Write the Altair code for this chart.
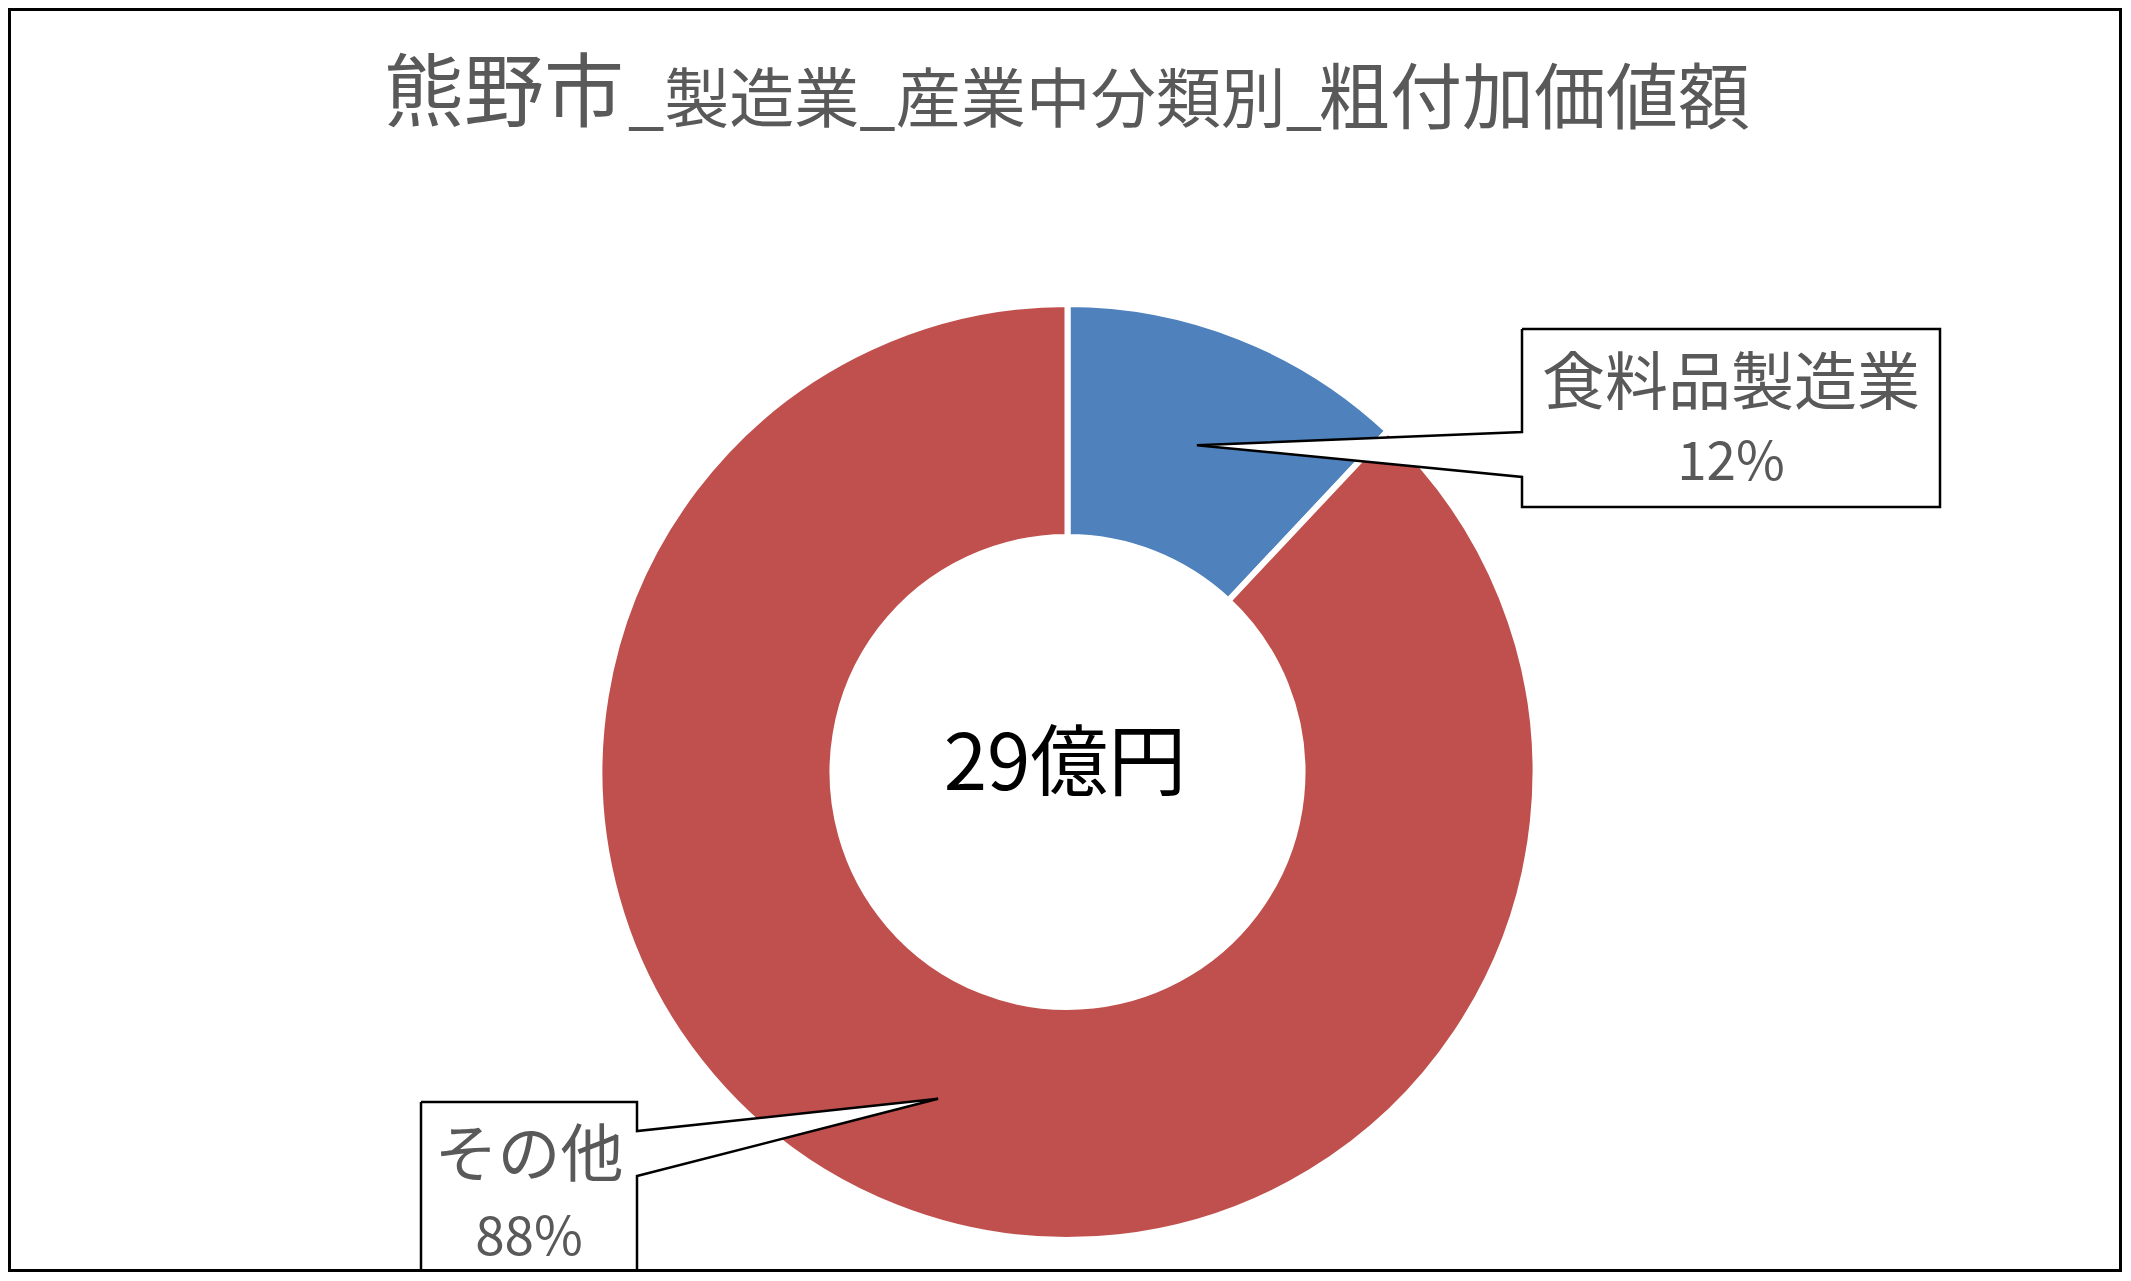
import math
import altair as alt

# ---------------- data ----------------
categories = ["食料品製造業", "その他"]
shares = [12, 88]          # percent
slice_colors = ["#4F81BD", "#C0504D"]
total_oku = 29             # 億円
title_parts = ["熊野市", "_製造業_産業中分類別_", "粗付加価値額"]

# ---------------- layout ----------------
W, H = 2114, 1264
OFF = 8  # page margin


def px(v):
    return v - OFF


CX, CY = px(1067.5), px(772)
R_OUT, R_IN = 465, 238
R_MID = (R_OUT + R_IN) / 2
GAP = 6
TXT = "#595959"
FONT = "Noto Sans CJK JP"

# callout boxes: (left, top, right, bottom, attach side, attach y1, attach y2)
boxes = [
    dict(l=px(1522), t=px(329), r=px(1940), b=px(507), side="left", a1=px(432), a2=px(477),
         tx=px(1731), ty1=px(404), ty2=px(480)),
    dict(l=px(421), t=px(1102), r=px(637), b=H + 20, side="right", a1=px(1131), a2=px(1176),
         tx=px(529), ty1=px(1176), ty2=px(1255)),
]

# ---------------- donut ----------------
pie_rows = [{"cat": c, "v": v, "idx": i} for i, (c, v) in enumerate(zip(categories, shares))]
donut = alt.Chart(alt.Data(values=pie_rows)).mark_arc(
    outerRadius=R_OUT + GAP / 2, innerRadius=R_IN - GAP / 2,
    stroke="white", strokeWidth=GAP
).encode(
    theta=alt.Theta("v:Q", stack=True),
    color=alt.Color("cat:N", scale=alt.Scale(domain=categories, range=slice_colors), legend=None),
    order=alt.Order("idx:Q"),
    x=alt.value(CX), y=alt.value(CY),
)

# ---------------- callouts ----------------
tot = sum(shares)
poly_rows = []
label_rows = []
cum = 0
for i, (c, v) in enumerate(zip(categories, shares)):
    a = 2 * math.pi * (cum + v / 2) / tot
    cum += v
    tipx = CX + R_MID * math.sin(a)
    tipy = CY - R_MID * math.cos(a)
    b = boxes[i]
    if b["side"] == "left":
        pts = [(b["l"], b["t"]), (b["r"], b["t"]), (b["r"], b["b"]), (b["l"], b["b"]),
               (b["l"], b["a2"]), (tipx, tipy), (b["l"], b["a1"]), (b["l"], b["t"])]
    else:
        pts = [(b["l"], b["t"]), (b["r"], b["t"]), (b["r"], b["a1"]), (tipx, tipy),
               (b["r"], b["a2"]), (b["r"], b["b"]), (b["l"], b["b"]), (b["l"], b["t"])]
    for k, (x, y) in enumerate(pts):
        poly_rows.append({"g": c, "k": k, "x": x, "y": y})
    label_rows.append({"t": c, "x": b["tx"], "y": b["ty1"], "s": 63})
    label_rows.append({"t": f"{v}%", "x": b["tx"], "y": b["ty2"], "s": 53})

callout = alt.Chart(alt.Data(values=poly_rows)).mark_line(
    fill="white", stroke="black", strokeWidth=2.5, strokeJoin="miter", interpolate="linear"
).encode(
    x=alt.X("x:Q", scale=None, axis=None),
    y=alt.Y("y:Q", scale=None, axis=None),
    order=alt.Order("k:Q"),
    detail="g:N",
)

labels = alt.Chart(alt.Data(values=label_rows)).mark_text(
    font=FONT, color=TXT, align="center", baseline="alphabetic"
).encode(
    x=alt.X("x:Q", scale=None, axis=None),
    y=alt.Y("y:Q", scale=None, axis=None),
    text="t:N",
    size=alt.Size("s:Q", scale=None, legend=None),
)

center = alt.Chart(alt.Data(values=[{"t": f"{total_oku}億円"}])).mark_text(
    font=FONT, color="black", fontSize=78, align="center", baseline="alphabetic"
).encode(text="t:N", x=alt.value(px(1065)), y=alt.value(px(790)))

# ---------------- title ----------------
t1 = alt.Chart(alt.Data(values=[{"t": title_parts[0]}])).mark_text(
    font=FONT, color=TXT, fontSize=80, align="left", baseline="alphabetic"
).encode(text="t:N", x=alt.value(px(384)), y=alt.value(px(120)))
t2 = alt.Chart(alt.Data(values=[{"t": title_parts[1]}])).mark_text(
    font=FONT, color=TXT, fontSize=65, align="left", baseline="alphabetic"
).encode(text="t:N", x=alt.value(px(628)), y=alt.value(px(122)))
t3 = alt.Chart(alt.Data(values=[{"t": title_parts[2]}])).mark_text(
    font=FONT, color=TXT, fontSize=72, align="right", baseline="alphabetic"
).encode(text="t:N", x=alt.value(px(1750)), y=alt.value(px(123)))

# ---------------- frame ----------------
frame = alt.Chart(alt.Data(values=[{"a": 1}])).mark_rect(
    fill=None, stroke="black", strokeWidth=3
).encode(x=alt.value(1.5), x2=alt.value(W - 1.5), y=alt.value(1.5), y2=alt.value(H - 1.5))

chart = alt.layer(donut, callout, labels, center, t1, t2, t3, frame).properties(
    width=W, height=H, autosize=alt.AutoSizeParams(type="none"), padding=0,
    background="white"
).configure_view(stroke=None)

chart.save("out.html", embed_options={"renderer": "svg", "actions": False})
